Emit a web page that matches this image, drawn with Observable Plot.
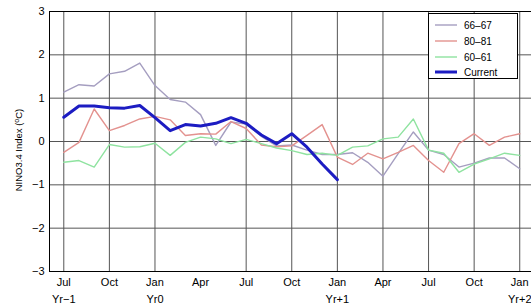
<!DOCTYPE html>
<html>
<head>
<meta charset="utf-8">
<script src="https://cdn.jsdelivr.net/npm/d3@7"></script>
<script src="https://cdn.jsdelivr.net/npm/@observablehq/plot@0.6"></script>
<style>
  html, body { margin: 0; padding: 0; background: #fff; }
  #wrap { position: relative; width: 531px; height: 304px; overflow: hidden; font-family: "Liberation Sans", Arial, sans-serif; }
  #legend { position: absolute; left: 428px; top: 13px; width: 90px; height: 66px; border: 1px solid #000; background: #fff; box-sizing: border-box; }
  #legend .row { position: absolute; left: 0; height: 14px; display: flex; align-items: center; font-size: 10px; color: #000; }
  #legend svg { display: block; margin-left: 6px; margin-right: 7px; }
  #ylabel { position: absolute; left: 19px; top: 150px; width: 140px; height: 12px; margin-left: -70px; margin-top: -6px; text-align: center; font-size: 9.5px; line-height: 12px; color: #000; transform: rotate(-90deg); white-space: nowrap; }
  #ylabel sup { font-size: 7px; vertical-align: 3px; line-height: 0; }
</style>
</head>
<body>
<div id="wrap"></div>
<script>
// Month index 0 = Jul Yr-1
const tickMonths = [0, 3, 6, 9, 12, 15, 18, 21, 24, 27, 30];
const tickLabels = ["Jul", "Oct", "Jan", "Apr", "Jul", "Oct", "Jan", "Apr", "Jul", "Oct", "Jan"];
const gridMonths = [0, 3, 6, 12, 15, 18, 21, 24, 27, 30];
const yearMonths = [0, 6, 18, 30];
const yearLabels = ["Yr\u22121", "Yr0", "Yr+1", "Yr+2"];
const yTicks = [-3, -2, -1, 0, 1, 2, 3];

const seriesNames = ["66\u201367", "80\u201381", "60\u201361", "Current"];
const seriesColors = ["#a59ec0", "#e3928f", "#8fe3a0", "#1c1cc2"];

const s6667 = [1.14, 1.31, 1.28, 1.56, 1.62, 1.81, 1.29, 0.97, 0.91, 0.62, -0.09, 0.45, 0.40, 0.12, -0.10, -0.08, -0.20, -0.30, -0.30, -0.26, -0.48, -0.80, -0.28, 0.22, -0.20, -0.30, -0.59, -0.50, -0.38, -0.38, -0.63];
const s8081 = [-0.25, -0.02, 0.75, 0.25, 0.37, 0.52, 0.58, 0.50, 0.14, 0.18, 0.17, 0.46, 0.30, -0.08, -0.12, -0.10, 0.14, 0.39, -0.36, -0.53, -0.27, -0.40, -0.25, -0.09, -0.44, -0.71, -0.05, 0.18, -0.09, 0.10, 0.18];
const s6061 = [-0.48, -0.44, -0.59, -0.07, -0.13, -0.12, -0.04, -0.32, -0.02, 0.10, 0.06, -0.05, 0.05, -0.05, -0.15, -0.21, -0.30, -0.27, -0.32, -0.13, -0.10, 0.06, 0.10, 0.52, -0.20, -0.27, -0.71, -0.52, -0.40, -0.27, -0.32];
const sCurrent = [0.56, 0.82, 0.82, 0.78, 0.77, 0.83, 0.55, 0.25, 0.39, 0.36, 0.42, 0.55, 0.42, 0.15, -0.05, 0.18, -0.13, -0.52, -0.88];

const toRows = arr => arr.map((v, i) => ({m: i, v}));
const allSeries = [s6667, s8081, s6061, sCurrent];
const widths = [1.4, 1.4, 1.4, 3];

const chart = Plot.plot({
  width: 531,
  height: 304,
  marginLeft: 49,
  marginTop: 11,
  marginBottom: 33,
  marginRight: 0,
  style: {fontFamily: "'Liberation Sans', Arial, sans-serif", fontSize: "11px", background: "#fff", color: "#000"},
  x: {domain: [-0.94, 31.3], range: [49, 539]},
  y: {domain: [-3, 3]},
  marks: [
    Plot.ruleX(gridMonths, {x: d => d, y1: -3, y2: 3, stroke: "#555", strokeWidth: 1}),
    Plot.ruleY(yTicks, {y: d => d, stroke: "#555", strokeWidth: 1}),
    ...allSeries.map((s, k) => Plot.line(toRows(s), {x: "m", y: "v", stroke: seriesColors[k], strokeWidth: widths[k], strokeLinejoin: "round"})),
    Plot.frame({stroke: "#000", strokeWidth: 1}),
    Plot.axisX(tickMonths, {tickSize: 0, tickPadding: 7, tickFormat: (d) => tickLabels[tickMonths.indexOf(d)], label: null, fontSize: 11, fill: "#000"}),
    Plot.axisX(yearMonths, {tickSize: 0, tickPadding: 24, tickFormat: (d) => yearLabels[yearMonths.indexOf(d)], label: null, fontSize: 11, fill: "#000"}),
    Plot.axisY(yTicks, {tickSize: 0, tickPadding: 5, label: null, fontSize: 11, fill: "#000"})
  ]
});

const wrap = document.getElementById("wrap");
wrap.appendChild(chart);

const ylabel = document.createElement("div");
ylabel.id = "ylabel";
ylabel.innerHTML = "NINO3.4 Index (<sup>o</sup>C)";
wrap.appendChild(ylabel);

const legend = document.createElement("div");
legend.id = "legend";
const rowTops = [4, 20, 36, 51];
seriesNames.forEach((name, k) => {
  const row = document.createElement("div");
  row.className = "row";
  row.style.top = rowTops[k] + "px";
  row.innerHTML = `<svg width="22" height="6"><line x1="0" x2="22" y1="3" y2="3" stroke="${seriesColors[k]}" stroke-width="${widths[k]}"/></svg><span>${name}</span>`;
  legend.appendChild(row);
});
wrap.appendChild(legend);
</script>
</body>
</html>
